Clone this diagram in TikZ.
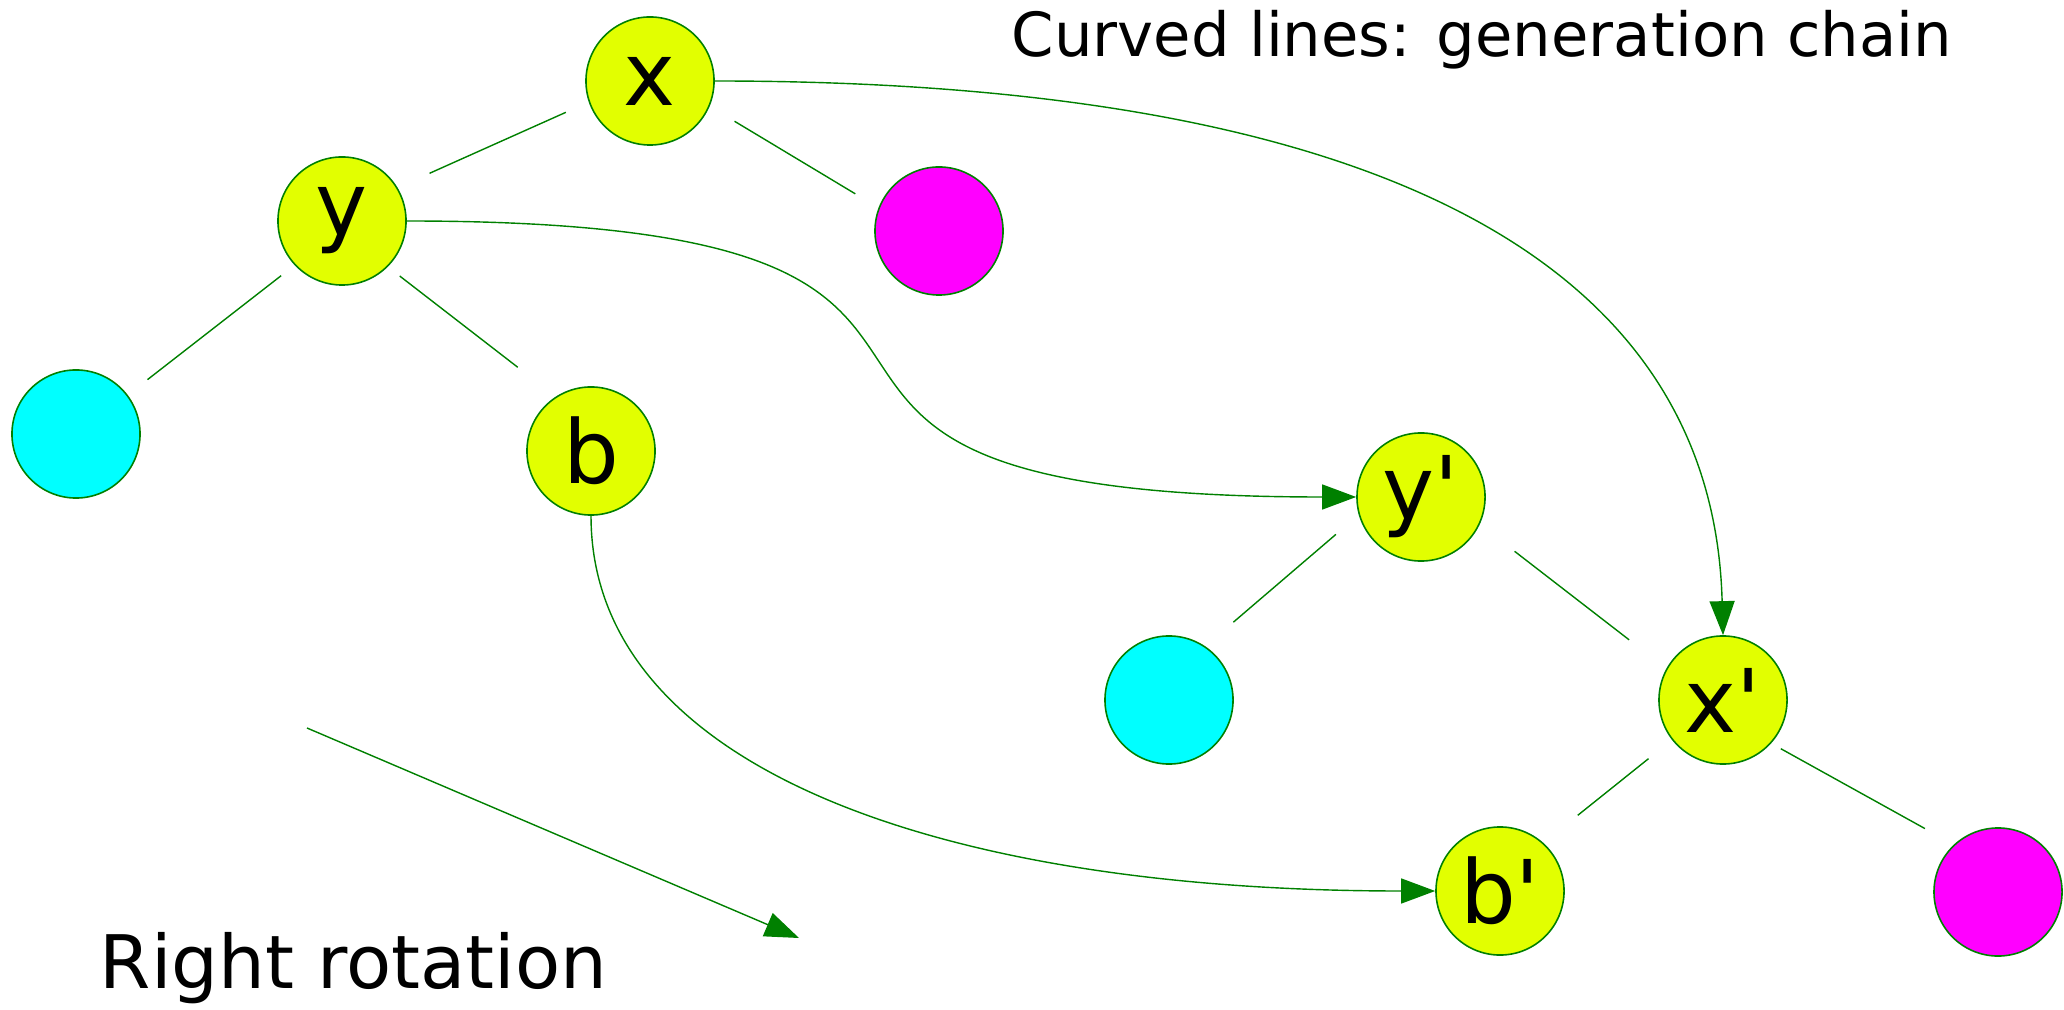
\documentclass[tikz,border=0pt]{standalone}
\usepackage{fontspec}
\setmainfont{DejaVu Sans}[Ligatures=TeXOff]
\usetikzlibrary{arrows.meta}
\definecolor{edgecol}{RGB}{0,128,0}
\definecolor{keycol}{RGB}{226,255,0}
\definecolor{leftcol}{RGB}{0,255,255}
\definecolor{rightcol}{RGB}{255,0,255}

\begin{document}
\begin{tikzpicture}[x=0.01cm, y=-0.01cm,
  key/.style={circle, draw=edgecol, fill=#1, line width=0.45pt, minimum size=1.28cm,
              inner sep=0pt, font=\fontsize{25pt}{25pt}\selectfont},
  key/.default=keycol,
  tree/.style={edgecol, line width=0.4pt},
  gen/.style={-{Triangle[length=0.34cm, width=0.25cm]}, edgecol, line width=0.4pt},
  caption/.style={anchor=base west, inner sep=0pt}
]
\useasboundingbox (0,0) rectangle (2064,1010);

\node[key]          (x)  at (650,81)   {x};
\node[key]          (y)  at (342,221)  {y};
\node[key=rightcol] (r)  at (939,231)  {};
\node[key=leftcol]  (l)  at (76,434)   {};
\node[key]          (b)  at (591,451)  {b};

\node[key]          (yp) at (1421,497) {y'};
\node[key=leftcol]  (lp) at (1169,700) {};
\node[key]          (xp) at (1723,700) {x'};
\node[key]          (bp) at (1500,891) {b'};
\node[key=rightcol] (rp) at (1998,892) {};

\draw[tree, shorten <=0.25cm, shorten >=0.35cm] (x.199) -- (y.31);
\draw[tree, shorten <=0.29cm, shorten >=0.27cm] (x.337) -- (r.159);
\draw[tree, shorten <=0.17cm, shorten >=0.25cm] (y.223) -- (l.37);
\draw[tree, shorten <=0.15cm, shorten >=0.48cm] (y.315) -- (b.123);
\draw[tree, shorten <=0.30cm, shorten >=0.37cm] (yp.196) -- (lp.56);
\draw[tree, shorten <=0.44cm, shorten >=0.47cm] (yp.335) -- (xp.151);
\draw[tree, shorten <=0.30cm, shorten >=0.44cm] (xp.218) -- (bp.48);
\draw[tree, shorten <=0.11cm, shorten >=0.33cm] (xp.318) -- (rp.133);

\draw[gen] (x.east) .. controls +(650,0) and +(-10,-380) .. (xp.north);
\draw[gen] (y.east) .. controls +(750,0) and +(-750,0) .. (yp.west);
\draw[gen] (b.south) .. controls +(0,250) and +(-500,0) .. (bp.west);

\coordinate (rotfrom) at (307,728);
\coordinate (rotto)   at (799,938);
\draw[gen] (rotfrom) -- (rotto);

\node[caption, font=\fontsize{17.3pt}{21pt}\selectfont] (chain) at (1011,57)
  {Curved lines: generation chain};
\node[caption, font=\fontsize{21pt}{25pt}\selectfont] (rotation) at (99,988)
  {Right rotation};

\end{tikzpicture}
\end{document}
